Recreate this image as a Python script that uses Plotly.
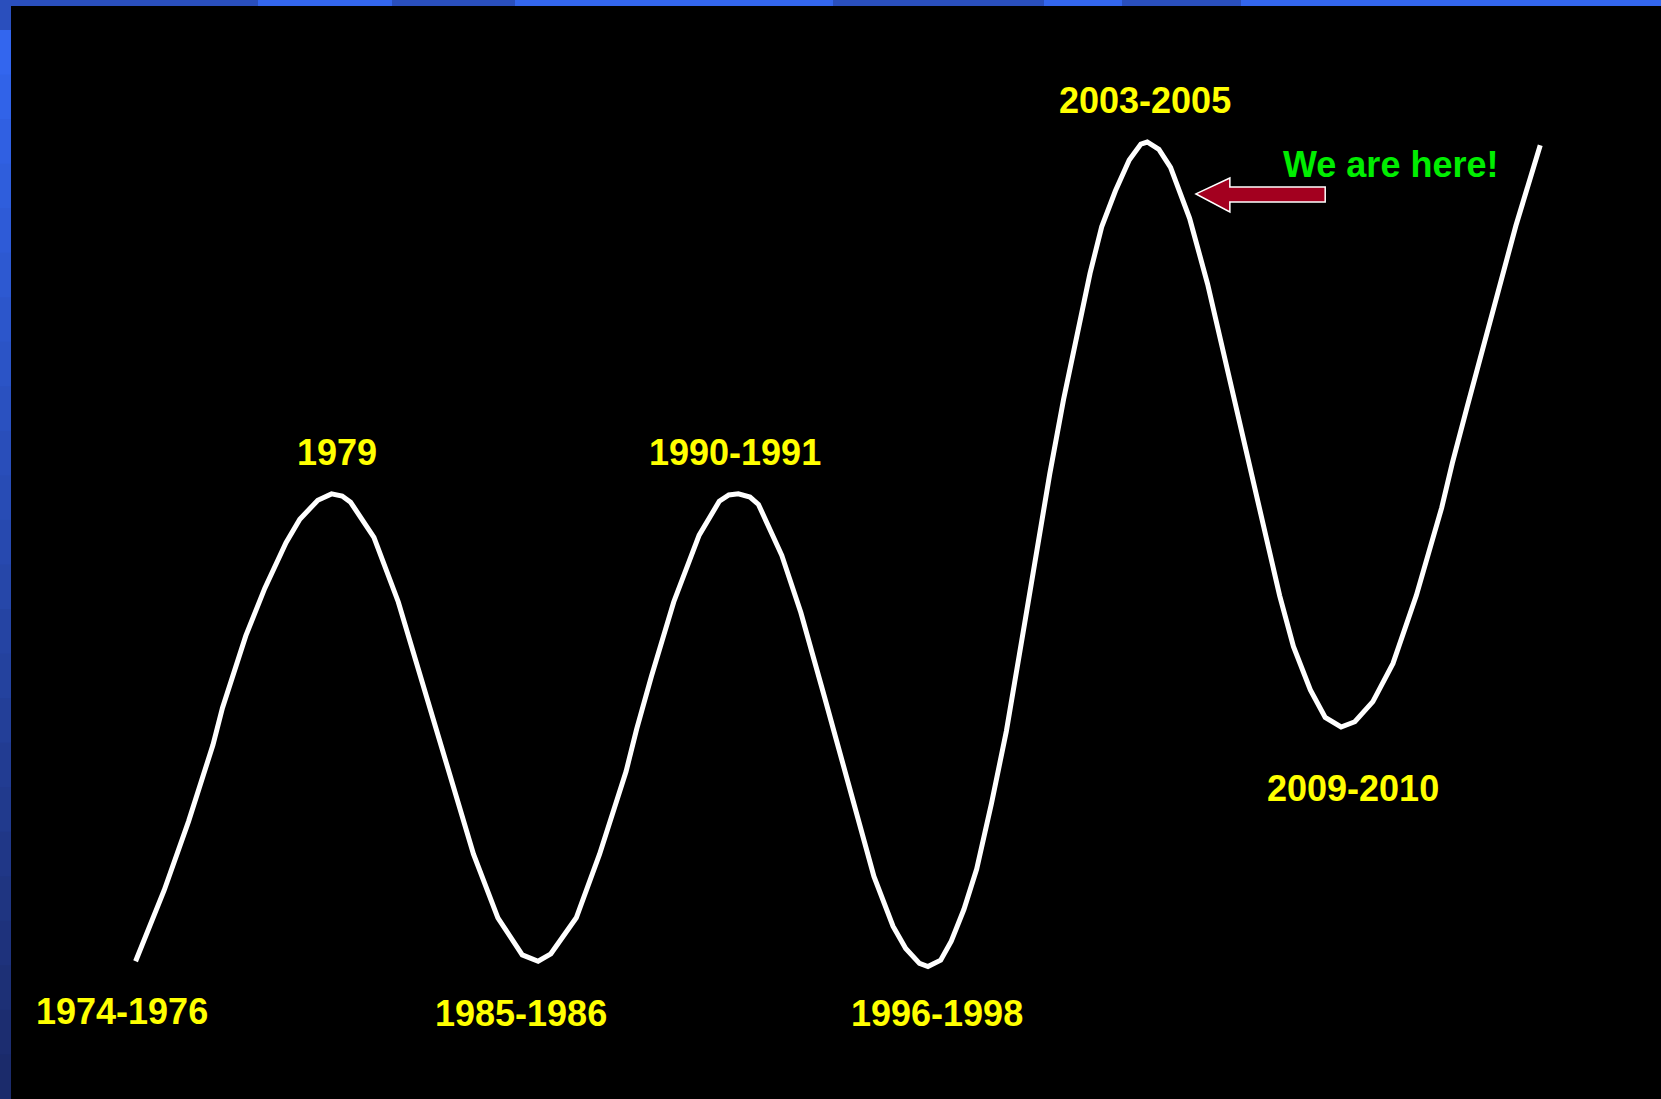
import plotly.graph_objects as go

# Cycle curve (horizontal position, vertical position; vertical grows downward)
curve_x = [128, 155, 178, 201, 210, 232, 250, 270, 283, 300, 313, 323, 331, 353, 376, 400, 425, 447, 470, 493,
           508, 520, 544, 566, 591, 601, 615, 636, 660, 679, 688, 697, 708, 716, 738, 756, 779, 803, 825, 843,
           855, 868, 876, 888, 898, 910, 922, 936, 950, 968, 979, 991, 1004, 1020, 1029, 1040, 1053, 1066, 1077,
           1083, 1094, 1105, 1123, 1140, 1159, 1177, 1192, 1208, 1221, 1237, 1251, 1266, 1279, 1296, 1315, 1337,
           1361, 1371, 1385, 1408, 1431, 1454]
curve_y = [907, 840, 775, 703, 668, 600, 555, 512, 490, 472, 466, 468, 474, 507, 568, 648, 730, 806, 866, 901,
           907, 900, 866, 806, 728, 688, 638, 568, 505, 473, 467, 466, 469, 476, 524, 578, 660, 746, 827, 874,
           895, 909, 912, 906, 888, 858, 820, 758, 690, 584, 516, 447, 377, 298, 258, 214, 180, 151, 136,
           134, 141, 158, 206, 268, 350, 432, 497, 562, 610, 651, 677, 686, 681, 662, 626, 562,
           479, 437, 384, 297, 213, 137]

# Period labels and their positions
labels = ["1974-1976", "1979", "1985-1986", "1990-1991", "1996-1998", "2003-2005", "2009-2010"]
label_x = [115, 318, 492, 694, 885, 1081, 1277]
label_y = [954, 427, 956, 427, 956, 95, 744]

note_text = "We are here!"
note_x, note_y = 1313, 155

W, H = 1661, 1099
XR, YR = 1568, 1037

fig = go.Figure()
fig.add_trace(go.Scatter(x=curve_x, y=curve_y, mode="lines",
                         line=dict(color="white", width=5), hoverinfo="skip", showlegend=False))

ann = []
for t, x, y in zip(labels, label_x, label_y):
    ann.append(dict(x=x, y=y, xref="x", yref="y", text=t, showarrow=False,
                    font=dict(family="Arial, Liberation Sans", size=36, color="#ffff00", weight="bold")))
ann.append(dict(x=note_x, y=note_y, xref="x", yref="y", text=note_text, showarrow=False,
                font=dict(family="Arial, Liberation Sans", size=36, color="#00ee00", weight="bold")))

shapes = []
bright, dark = "#3366ee", "#2a4fbd"
# base fills under the border bars (hide seams)
shapes.append(dict(type="rect", xref="paper", yref="paper", x0=0, x1=1, y0=1 - 6 / H, y1=1,
                   fillcolor=bright, line=dict(width=0), layer="below"))
shapes.append(dict(type="rect", xref="paper", yref="paper", x0=0, x1=11 / W, y0=0, y1=1,
                   fillcolor="#2a45a8", line=dict(width=0), layer="below"))
# top bar stripes (pixel extents across width)
stripes = [(0, 258, dark), (392, 515, dark), (833, 1044, dark), (1122, 1241, dark)]
for a, b, c in stripes:
    shapes.append(dict(type="rect", xref="paper", yref="paper", x0=a / W, x1=b / W, y0=1 - 6 / H, y1=1,
                       fillcolor=c, line=dict(width=0), layer="below"))
# left bar: dark top then gradient bright -> navy
n = 24
c0 = (0x33, 0x66, 0xee)
c1 = (0x1b, 0x2b, 0x6b)
top, bot = 30, H
for i in range(n):
    f = i / (n - 1)
    col = "rgb(%d,%d,%d)" % tuple(int(c0[k] + (c1[k] - c0[k]) * f) for k in range(3))
    ya = top + (bot - top) * i / n
    yb = min(H, top + (bot - top) * (i + 1) / n + 2)
    shapes.append(dict(type="rect", xref="paper", yref="paper", x0=0, x1=11 / W,
                       y0=1 - yb / H, y1=1 - ya / H, fillcolor=col, line=dict(width=0), layer="below"))
shapes.append(dict(type="rect", xref="paper", yref="paper", x0=0, x1=11 / W, y0=1 - 30 / H, y1=1,
                   fillcolor=dark, line=dict(width=0), layer="below"))

# arrow pointing at the peak
shapes.append(dict(type="path", xref="x", yref="y",
                   path="M 1129 183 L 1161 168 L 1161 176.5 L 1251 176.5 L 1251 190.5 L 1161 190.5 L 1161 200 Z",
                   fillcolor="#a3001f", line=dict(color="white", width=1.5), layer="above"))

fig.update_layout(
    width=W, height=H, margin=dict(l=0, r=0, t=0, b=0),
    paper_bgcolor="black", plot_bgcolor="rgba(0,0,0,0)",
    xaxis=dict(range=[0, XR], visible=False, fixedrange=True),
    yaxis=dict(range=[YR, 0], visible=False, fixedrange=True),
    annotations=ann, shapes=shapes, showlegend=False,
)
fig.write_html("out.html", config={"displayModeBar": False},
               post_script="document.body.style.margin='0';document.body.style.overflow='hidden';document.body.style.background='black';")
